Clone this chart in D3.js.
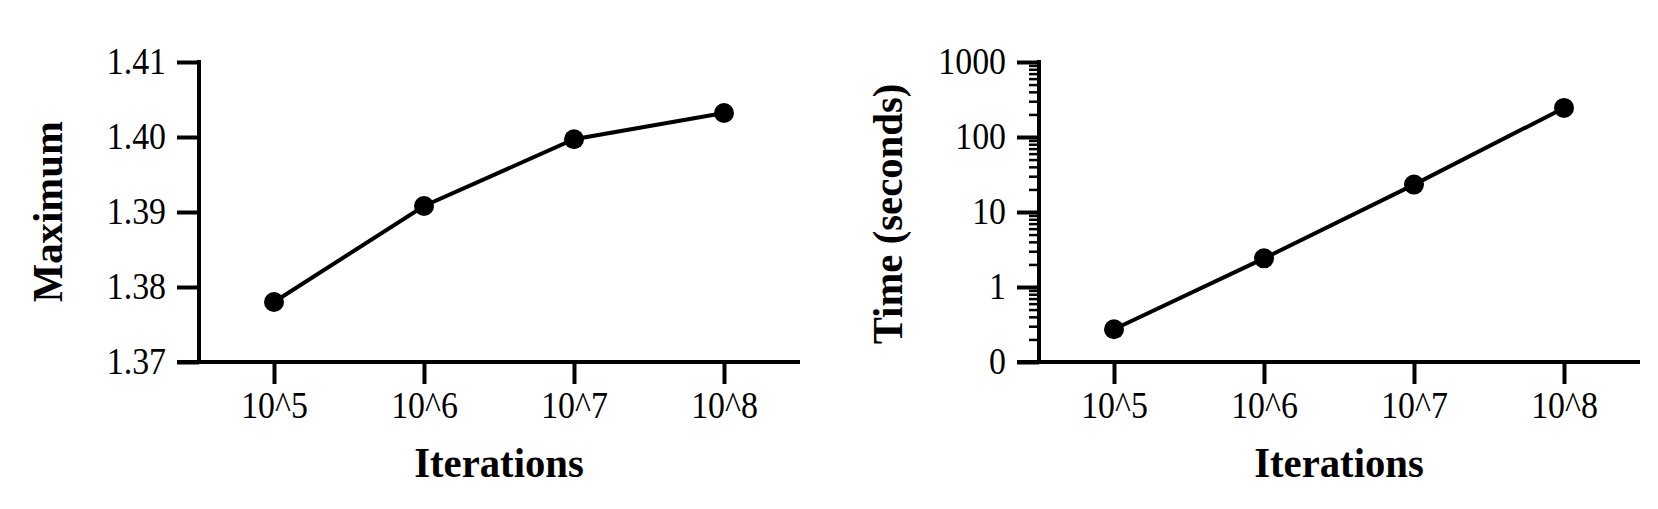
<!DOCTYPE html>
<html><head><meta charset="utf-8">
<script src="https://cdn.jsdelivr.net/npm/d3@7"></script>
<style>
html,body{margin:0;padding:0;background:#fff;}
svg{display:block;background:#fff;}
text{font-family:"Liberation Serif","Times New Roman",serif;fill:#000;}
</style></head><body>
<svg id="chart" width="1658" height="509"></svg>
<script>
// ---- data ----
const iterations = ["10^5", "10^6", "10^7", "10^8"];
const maximumValues = [1.378, 1.3908, 1.3997, 1.4032];
const timeValues = [0.273, 2.41, 23.2, 244];
const maximumTicks = [1.37, 1.38, 1.39, 1.40, 1.41];
const timeMajorTicks = [0.1, 1, 10, 100, 1000];
const timeTickLabels = ["0", "1", "10", "100", "1000"];

const svg = d3.select("#chart");
const yTop = 62, yBase = 362;
const TICK_FONT = 37, TITLE_FONT = 42;

function styleAxis(g, sw) {
  g.attr("font-family", null).attr("font-size", null);
  g.selectAll("line").attr("stroke", "#000").attr("stroke-width", sw);
  g.selectAll("text").attr("font-size", TICK_FONT).attr("class", "ticklab");
}

function panel(opts) {
  const g = svg.append("g");
  const x = d3.scalePoint().domain(iterations).range([opts.x0, opts.x0 + 600]).padding(0.5);
  const y = opts.y;

  // x axis line (extends left to the end of the y ticks)
  g.append("line")
    .attr("x1", opts.x0 - 22).attr("x2", opts.x0 + 601)
    .attr("y1", yBase).attr("y2", yBase)
    .attr("stroke", "#000").attr("stroke-width", 4);

  // x ticks
  const xa = g.append("g").attr("transform", `translate(0,${yBase})`)
    .call(d3.axisBottom(x).tickSize(22).tickSizeOuter(0).tickPadding(7.7));
  xa.select(".domain").remove();
  styleAxis(xa, 4);
  xa.selectAll("text").attr("dy", "0.71em");

  // minor y ticks (log axis only)
  if (opts.minor) {
    const ma = g.append("g").attr("transform", `translate(${opts.x0},0)`)
      .call(d3.axisLeft(y).tickValues(opts.minor).tickSize(10).tickFormat(""));
    ma.select(".domain").remove();
    styleAxis(ma, 2.5);
  }

  // y axis
  const ya = g.append("g").attr("transform", `translate(${opts.x0},0)`)
    .call(d3.axisLeft(y).tickValues(opts.ticks).tickSize(22).tickSizeOuter(0)
      .tickPadding(11).tickFormat(opts.fmt));
  ya.select(".domain").remove();
  styleAxis(ya, 4);
  g.append("line")
    .attr("x1", opts.x0).attr("x2", opts.x0)
    .attr("y1", yTop - 2).attr("y2", yBase)
    .attr("stroke", "#000").attr("stroke-width", 4);

  // titles
  g.append("text").attr("class", "title")
    .attr("x", opts.x0 + 300).attr("y", 477)
    .attr("text-anchor", "middle").attr("font-weight", "bold")
    .attr("font-size", TITLE_FONT).text("Iterations");
  g.append("text").attr("class", "title")
    .attr("transform", `translate(${opts.ytx},${opts.yty}) rotate(-90)`)
    .attr("text-anchor", "middle").attr("font-weight", "bold")
    .attr("font-size", TITLE_FONT).text(opts.ytitle);

  // data
  const pts = iterations.map((k, i) => ({k, v: opts.values[i]}));
  g.append("path").datum(pts)
    .attr("fill", "none").attr("stroke", "#000").attr("stroke-width", 4)
    .attr("d", d3.line().x(d => x(d.k)).y(d => y(d.v)));
  g.selectAll("circle.dot").data(pts).join("circle")
    .attr("class", "dot")
    .attr("cx", d => x(d.k)).attr("cy", d => y(d.v)).attr("r", 10)
    .attr("fill", "#000");
}

// left panel: Maximum
const yMax = d3.scaleLinear().domain([1.37, 1.41]).range([yBase, yTop]);
panel({
  x0: 199, y: yMax, ticks: maximumTicks, fmt: d3.format(".2f"),
  values: maximumValues, ytitle: "Maximum", ytx: 61.7, yty: 211.7
});

// right panel: Time (log)
const yTime = d3.scaleLog().domain([0.1, 1000]).range([yBase, yTop]);
const minorTicks = yTime.ticks().filter(t => !timeMajorTicks.some(m => Math.abs(m - t) < 1e-9));
panel({
  x0: 1039, y: yTime, ticks: timeMajorTicks,
  fmt: (d) => timeTickLabels[timeMajorTicks.indexOf(d)],
  minor: minorTicks,
  values: timeValues, ytitle: "Time (seconds)", ytx: 901.7, yty: 214
});

// slightly condensed type, as in the reference
function condense(sel, k) {
  sel.each(function () {
    const L = this.getComputedTextLength();
    this.setAttribute("textLength", L * k);
    this.setAttribute("lengthAdjust", "spacingAndGlyphs");
  });
}
condense(svg.selectAll("text.ticklab"), 0.915);
condense(svg.selectAll("text.title"), 0.97);
</script>
</body></html>
